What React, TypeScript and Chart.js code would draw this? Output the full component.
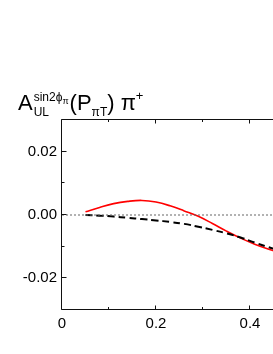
import React, { useEffect, useRef } from "react";
import { Chart, registerables } from "chart.js";

Chart.register(...registerables);

// P_piT values (x) and asymmetry curves
const ptValues = [0.05, 0.08, 0.11, 0.14, 0.17, 0.2, 0.23, 0.26, 0.29, 0.32, 0.35, 0.38, 0.41, 0.44, 0.47];
const redValues = [0.001, 0.0024, 0.0036, 0.0043, 0.0046, 0.0041, 0.0029, 0.0013, -0.0004, -0.0027, -0.0051, -0.0073, -0.0092, -0.0108, -0.0122];
const blackValues = [0.0, -0.0002, -0.0005, -0.0009, -0.0013, -0.0017, -0.0022, -0.0028, -0.0037, -0.0047, -0.0058, -0.0071, -0.0087, -0.0102, -0.0116];
const zeroLineX = [0, 0.7];
const zeroLineY = [0, 0];

const xRange = [0, 0.7];
const yRange = [-0.03, 0.03];
const xTickValues = [0, 0.2, 0.4, 0.6];
const xMinorValues = [0.1, 0.3, 0.5];
const yTickValues = [-0.02, 0, 0.02];
const yMinorValues = [-0.01, 0.01];

const FONT = "'Liberation Sans', Arial, sans-serif";

const framePlugin = {
  id: "frame",
  afterDraw(chart: any) {
    const { ctx, chartArea: a, scales } = chart;
    const x = scales.x;
    const y = scales.y;
    ctx.save();
    ctx.strokeStyle = "#111";
    ctx.lineWidth = 1;
    const L = a.left - 0.5;
    const T = a.top - 0.5;
    const R = a.right - 0.5;
    const B = a.bottom - 0.5;
    ctx.beginPath();
    ctx.moveTo(L, T);
    ctx.lineTo(R, T);
    ctx.lineTo(R, B);
    ctx.lineTo(L, B);
    ctx.closePath();
    ctx.stroke();

    const tick = (vals: number[], len: number) => {
      vals.forEach((v) => {
        const px = Math.round(x.getPixelForValue(v)) - 0.5;
        ctx.beginPath();
        ctx.moveTo(px, B);
        ctx.lineTo(px, B - len);
        ctx.moveTo(px, T);
        ctx.lineTo(px, T + len);
        ctx.stroke();
      });
    };
    const tickY = (vals: number[], len: number) => {
      vals.forEach((v) => {
        const py = Math.round(y.getPixelForValue(v)) - 0.5;
        ctx.beginPath();
        ctx.moveTo(L, py);
        ctx.lineTo(L + len, py);
        ctx.moveTo(R, py);
        ctx.lineTo(R - len, py);
        ctx.stroke();
      });
    };
    tick(xTickValues, 4);
    tick(xMinorValues, 2.5);
    tickY(yTickValues, 5);
    tickY(yMinorValues, 3);

    // title
    ctx.fillStyle = "#000";
    ctx.textBaseline = "alphabetic";
    ctx.textAlign = "left";
    const base = 110;
    let cx = 18;
    const big = `22px ${FONT}`;
    const small = `12px ${FONT}`;
    const tiny = `9px ${FONT}`;
    ctx.font = big;
    ctx.fillText("A", cx, base);
    cx += ctx.measureText("A").width + 1;
    ctx.font = small;
    ctx.fillText("sin2\u03d5", cx, base - 9);
    let supEnd = cx + ctx.measureText("sin2\u03d5").width;
    ctx.font = tiny;
    ctx.fillText("\u03c0", supEnd, base - 6);
    supEnd += ctx.measureText("\u03c0").width;
    ctx.font = small;
    ctx.fillText("UL", cx, base + 6);
    const subEnd = cx + ctx.measureText("UL").width;
    cx = Math.max(supEnd, subEnd) + 1;
    ctx.font = big;
    ctx.fillText("(P", cx, base);
    cx += ctx.measureText("(P").width;
    ctx.font = small;
    ctx.fillText("\u03c0T", cx, base + 6);
    cx += ctx.measureText("\u03c0T").width;
    ctx.font = big;
    ctx.fillText(") \u03c0", cx, base);
    cx += ctx.measureText(") \u03c0").width;
    ctx.font = `13px ${FONT}`;
    ctx.fillText("+", cx, base - 10);
    ctx.restore();
  },
};

export default function App() {
  const ref = useRef<HTMLCanvasElement | null>(null);
  useEffect(() => {
    if (!ref.current) return;
    const chart = new Chart(ref.current, {
      type: "line",
      data: {
        datasets: [
          {
            label: "zero",
            data: zeroLineX.map((v, i) => ({ x: v, y: zeroLineY[i] })),
            borderColor: "#666",
            borderWidth: 1,
            borderDash: [2, 2],
            pointRadius: 0,
          },
          {
            label: "black",
            data: ptValues.map((v, i) => ({ x: v, y: blackValues[i] })),
            borderColor: "#000",
            borderWidth: 2,
            borderDash: [7, 4],
            pointRadius: 0,
            tension: 0.4,
          },
          {
            label: "red",
            data: ptValues.map((v, i) => ({ x: v, y: redValues[i] })),
            borderColor: "#ff0000",
            borderWidth: 1.6,
            pointRadius: 0,
            tension: 0.4,
          },
        ],
      },
      options: {
        animation: false,
        responsive: false,
        events: [],
        layout: { padding: { top: 120, right: 29, left: 0, bottom: 0 } },
        plugins: { legend: { display: false }, tooltip: { enabled: false }, title: { display: false } },
        scales: {
          x: {
            type: "linear",
            min: xRange[0],
            max: xRange[1],
            grid: { display: false, drawTicks: false },
            border: { display: false },
            afterFit: (s: any) => {
              s.height = 44;
            },
            afterBuildTicks: (s: any) => {
              s.ticks = xTickValues.map((v) => ({ value: v }));
            },
            ticks: {
              padding: 5,
              color: "#000",
              font: { family: FONT, size: 15 },
              maxRotation: 0,
              callback: (v: any) => (Number(v) === 0 ? "0" : Number(v).toFixed(1)),
            },
          },
          y: {
            type: "linear",
            min: yRange[0],
            max: yRange[1],
            grid: { display: false, drawTicks: false },
            border: { display: false },
            afterFit: (s: any) => {
              s.width = 62;
            },
            afterBuildTicks: (s: any) => {
              s.ticks = yTickValues.map((v) => ({ value: v }));
            },
            ticks: {
              padding: 5,
              color: "#000",
              font: { family: FONT, size: 15 },
              callback: (v: any) => Number(v).toFixed(2),
            },
          },
        },
      },
      plugins: [framePlugin],
    });
    return () => chart.destroy();
  }, []);
  return (
    <div
      style={{
        position: "fixed",
        left: 0,
        top: 0,
        width: 273,
        height: 354,
        overflow: "hidden",
        background: "#fff",
      }}
    >
      <canvas ref={ref} width={420} height={354} style={{ display: "block", width: 420, height: 354 }} />
    </div>
  );
}
